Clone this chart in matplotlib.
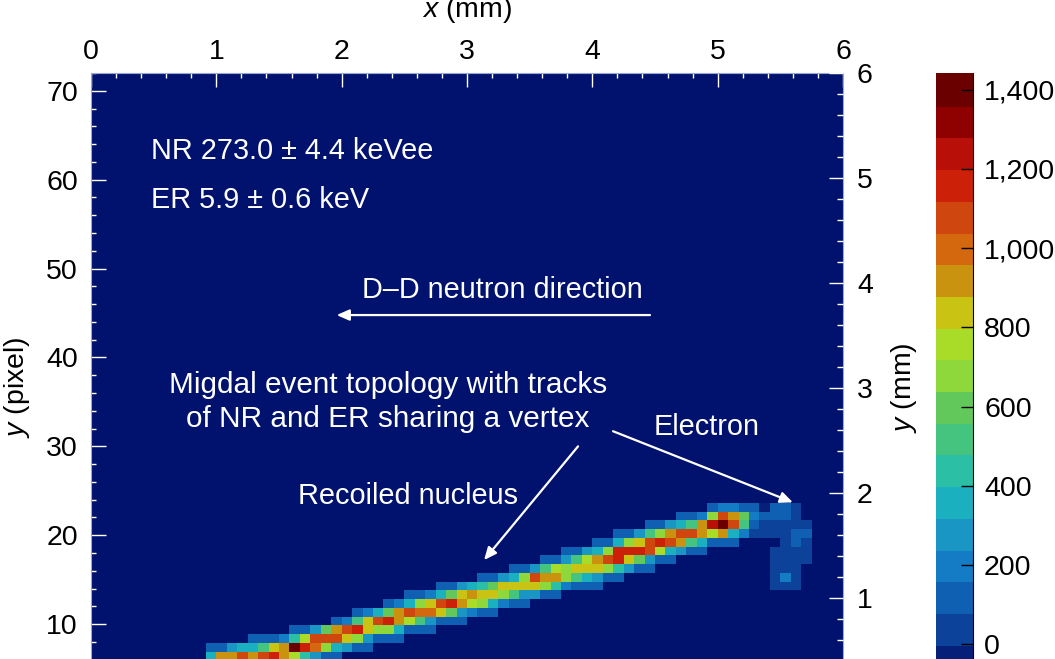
import numpy as np
import matplotlib
matplotlib.use("Agg")
import matplotlib.pyplot as plt
from matplotlib.colors import ListedColormap, BoundaryNorm
from matplotlib.ticker import MultipleLocator, FuncFormatter

plt.rcParams['font.family'] = ['Liberation Sans', 'DejaVu Sans']
plt.rcParams['mathtext.fontset'] = 'custom'
plt.rcParams['mathtext.it'] = 'Liberation Sans:italic'
plt.rcParams['mathtext.rm'] = 'Liberation Sans'

# track: row index -> (first column, charge values)
row_06 = (11, [350, 950, 950, 1050, 950, 1100, 1200, 950, 800, 450, 300, 100, 100])
row_07 = (11, [100, 150, 250, 350, 400, 550, 850, 950, 1400, 1150, 1000, 650, 400, 250, 100, 100])
row_08 = (15, [100, 100, 150, 200, 450, 750, 1050, 1100, 1100, 850, 650, 300, 150, 100, 100])
row_09 = (19, [100, 100, 300, 600, 900, 1050, 1200, 850, 700, 650, 400, 150, 100, 100])
row_10 = (23, [100, 200, 550, 850, 1050, 1200, 950, 750, 550, 250, 100, 100, 100])
row_11 = (25, [100, 200, 350, 600, 950, 1050, 1000, 1000, 850, 600, 300, 200, 100, 100])
row_12 = (28, [100, 200, 350, 700, 850, 1050, 1150, 950, 800, 650, 400, 200, 100, 100])
row_13 = (30, [100, 100, 200, 350, 600, 850, 950, 850, 850, 650, 500, 250, 250, 100, 100])
row_14 = (33, [100, 100, 250, 350, 450, 600, 870, 870, 870, 870, 650, 450, 200, 100, 100, 100])
row_15 = (37, [100, 120, 300, 400, 700, 1050, 950, 950, 700, 500, 350, 250, 100, 100])
row_16 = (40, [100, 100, 300, 550, 750, 700, 850, 850, 850, 650, 450, 250, 100, 100])
row_17 = (43, [100, 150, 250, 500, 800, 950, 1100, 1150, 850, 600, 300, 150, 100])
row_18 = (45, [100, 100, 250, 400, 650, 1150, 1150, 1150, 1050, 750, 400, 300, 150, 100])
row_19 = (48, [100, 150, 350, 650, 850, 1050, 1200, 1050, 900, 550, 400, 150, 150, 100])
row_20 = (50, [100, 100, 250, 500, 650, 950, 1050, 1050, 900, 800, 950, 400, 200, 70, 70, 70, 70, 150, 150])
row_21 = (53, [100, 100, 250, 400, 550, 900, 1250, 1430, 1050, 550, 100, 70, 70, 70, 70, 70])
row_22 = (56, [100, 100, 200, 700, 1050, 950, 600, 200, 100, 150, 150, 70])
row_23 = (59, [100, 200, 200, 150, 100, 0, 150, 150, 70])
# electron blob below the junction
row_19b = (66, [70, 150, 70])
row_18b = (65, [70, 70, 70, 70])
row_17b = (65, [70, 70, 70, 70])
row_16b = (65, [70, 70, 70])
row_15b = (65, [70, 220, 70])
row_14b = (65, [70, 70, 70])

tracks = {6: row_06, 7: row_07, 8: row_08, 9: row_09, 10: row_10, 11: row_11,
          12: row_12, 13: row_13, 14: row_14, 15: row_15, 16: row_16, 17: row_17,
          18: row_18, 19: row_19, 20: row_20, 21: row_21, 22: row_22, 23: row_23}
blob = {19: row_19b, 18: row_18b, 17: row_17b, 16: row_16b, 15: row_15b, 14: row_14b}

level_colors = ['#00126e', '#00126e', '#06207a', '#0c429a', '#0f5fb3', '#137cc4', '#1a96c4',
                '#1bb0bf', '#2bbfa6', '#45c480', '#62c85c', '#8fd83c', '#a8dc28',
                '#c9c414', '#c9920f', '#d4680f', '#cf460f', '#cc2008', '#b80f08',
                '#8f0000', '#6b0000']
cbar_ticks = [0, 200, 400, 600, 800, 1000, 1200, 1400]

W, H = 1055, 659
fig = plt.figure(figsize=(W / 100, H / 100), dpi=100)
ax = fig.add_axes([91 / W, (H - 713) / H, 752 / W, 640 / H])

grid = np.full((72, 72), -100.0)
for rows in (tracks, blob):
    for r, (c0, vals) in rows.items():
        grid[r, c0:c0 + len(vals)] = vals

levels = 1442 - 80 * np.arange(21, -1, -1)
cmap = ListedColormap(level_colors)
norm = BoundaryNorm(levels, cmap.N)
xe = np.arange(73) / 12
ye = 0.022 + 0.984 * np.arange(73)
ax.set_facecolor(level_colors[0])
mesh = ax.pcolormesh(xe, ye, grid, cmap=cmap, norm=norm, shading='flat', antialiased=False)
ax.set_xlim(0, 6)
ax.set_ylim(0, 72)

white = 'white'
ax.xaxis.tick_top()
ax.xaxis.set_label_position('top')
ax.xaxis.set_major_locator(MultipleLocator(1))
ax.xaxis.set_minor_locator(MultipleLocator(0.2))
ax.yaxis.set_major_locator(MultipleLocator(10))
ax.yaxis.set_minor_locator(MultipleLocator(2))
ax.tick_params(axis='both', which='major', direction='in', color=white, labelsize=20.5, labelcolor='black', width=1)
ax.tick_params(axis='y', which='major', length=10.5, pad=9.5)
ax.tick_params(axis='x', which='major', length=10, pad=5.5)
ax.tick_params(axis='both', which='minor', direction='in', color=white, length=3.6, width=1)
ax.set_xlabel(r'$\it{x}$ (mm)', fontsize=20.5, labelpad=16)
ax.set_ylabel(r'$\it{y}$ (pixel)', fontsize=20.5, labelpad=10)
ax.yaxis.label.set_y(0.509)
for s in ax.spines.values():
    s.set_color('#9aa6d8')
    s.set_linewidth(0.8)

# right axis in mm
ax2 = ax.twinx()
ax2.set_ylim(-0.095, 6)
ax2.set_yticks([1, 2, 3, 4, 5, 6])
ax2.yaxis.set_minor_locator(MultipleLocator(0.2))
ax2.tick_params(axis='y', which='major', direction='in', color=white, labelsize=20.5, length=10, width=1, pad=10)
ax2.tick_params(axis='y', which='minor', direction='in', color=white, length=4, width=1)
ax2.set_ylabel(r'$\it{y}$ (mm)', fontsize=20.5, labelpad=12)
ax2.yaxis.label.set_y(0.508)
for s in ax2.spines.values():
    s.set_visible(False)

# colour bar
cax = fig.add_axes([936 / W, (H - 713) / H, 37 / W, 640 / H])
cb = fig.colorbar(mesh, cax=cax, ticks=cbar_ticks, spacing='proportional',
                  format=FuncFormatter(lambda v, p: f'{int(v):,}'))
cax.set_ylim(-173, 1442)
cb.outline.set_visible(False)
cb.solids.set_edgecolor('face')
cax.spines['right'].set_visible(True)
cax.spines['right'].set_color('black')
cax.spines['right'].set_linewidth(0.8)
cax.tick_params(axis='y', which='major', direction='in', length=8.5, width=1, labelsize=20.5, pad=8, color='black')
cax.minorticks_off()

# annotations
txt = dict(color=white, fontsize=20.8)
ax.text(0.479, 63.25, 'NR 273.0 ± 4.4 keVee', ha='left', va='center', **txt)
ax.text(0.479, 57.7, 'ER 5.9 ± 0.6 keV', ha='left', va='center', **txt)
ax.text(3.28, 47.6, 'D–D neutron direction', ha='center', va='center', **txt)
ax.text(2.37, 34.95, 'Migdal event topology with tracks\nof NR and ER sharing a vertex', ha='center', va='center',
        linespacing=1.28, color=white, fontsize=21.4)
ax.text(4.915, 32.2, 'Electron', ha='center', va='center', **txt)
ax.text(2.53, 24.45, 'Recoiled nucleus', ha='center', va='center', **txt)

def arrow(x0, y0, x1, y1):
    ax.annotate('', xy=(x1, y1), xytext=(x0, y0),
                arrowprops=dict(arrowstyle='-|>,head_length=0.75,head_width=0.33', color=white, lw=1.6,
                                shrinkA=0, shrinkB=0))

arrow(4.46, 44.77, 1.96, 44.77)
arrow(4.165, 31.7, 5.60, 23.7)
arrow(3.886, 30.0, 3.136, 17.2)

fig.savefig('out.png', dpi=100)
